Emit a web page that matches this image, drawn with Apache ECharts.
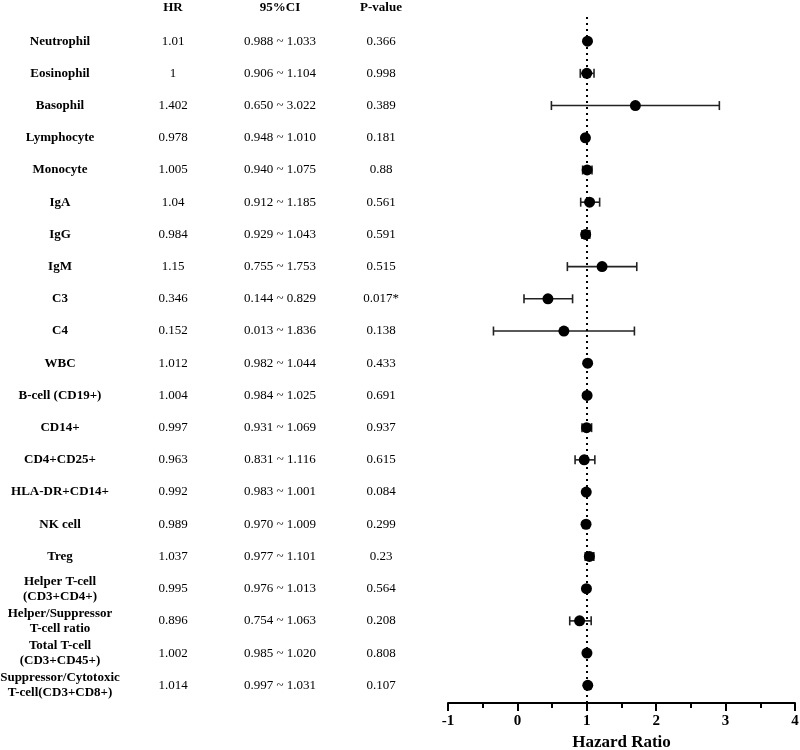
<!DOCTYPE html>
<html>
<head>
<meta charset="utf-8">
<script src="https://cdn.jsdelivr.net/npm/echarts@6/dist/echarts.min.js"></script>
<style>
  html, body { margin: 0; padding: 0; background: #fff; }
  #main { width: 800px; height: 750px; }
</style>
</head>
<body>
<div id="main"></div>
<script>
// row labels (top to bottom)
const labels = [
  'Neutrophil', 'Eosinophil', 'Basophil', 'Lymphocyte', 'Monocyte',
  'IgA', 'IgG', 'IgM', 'C3', 'C4', 'WBC', 'B-cell (CD19+)', 'CD14+',
  'CD4+CD25+', 'HLA-DR+CD14+', 'NK cell', 'Treg',
  'Helper T-cell\n(CD3+CD4+)', 'Helper/Suppressor\nT-cell ratio',
  'Total T-cell\n(CD3+CD45+)', 'Suppressor/Cytotoxic\nT-cell(CD3+CD8+)'
];
// table columns as printed
const hrText = ['1.01', '1', '1.402', '0.978', '1.005', '1.04', '0.984', '1.15', '0.346', '0.152',
  '1.012', '1.004', '0.997', '0.963', '0.992', '0.989', '1.037', '0.995', '0.896', '1.002', '1.014'];
const ciText = ['0.988 ~ 1.033', '0.906 ~ 1.104', '0.650 ~ 3.022', '0.948 ~ 1.010', '0.940 ~ 1.075',
  '0.912 ~ 1.185', '0.929 ~ 1.043', '0.755 ~ 1.753', '0.144 ~ 0.829', '0.013 ~ 1.836',
  '0.982 ~ 1.044', '0.984 ~ 1.025', '0.931 ~ 1.069', '0.831 ~ 1.116', '0.983 ~ 1.001',
  '0.970 ~ 1.009', '0.977 ~ 1.101', '0.976 ~ 1.013', '0.754 ~ 1.063', '0.985 ~ 1.020', '0.997 ~ 1.031'];
const pText = ['0.366', '0.998', '0.389', '0.181', '0.88', '0.561', '0.591', '0.515', '0.017*', '0.138',
  '0.433', '0.691', '0.937', '0.615', '0.084', '0.299', '0.23', '0.564', '0.208', '0.808', '0.107'];
const headers = ['HR', '95%CI', 'P-value'];

// plotted markers
const hrPlot = [1.01, 1.0, 1.70, 0.98, 1.005, 1.04, 0.984, 1.22, 0.44, 0.67, 1.012,
  1.004, 0.997, 0.963, 0.992, 0.989, 1.037, 0.995, 0.896, 1.002, 1.014];
const loPlot = [0.988, 0.906, 0.49, 0.948, 0.94, 0.912, 0.929, 0.72, 0.095, -0.345, 0.982,
  0.984, 0.931, 0.831, 0.983, 0.970, 0.977, 0.976, 0.754, 0.985, 0.997];
const hiPlot = [1.033, 1.104, 2.91, 1.010, 1.075, 1.185, 1.043, 1.72, 0.795, 1.686, 1.044,
  1.025, 1.069, 1.116, 1.001, 1.009, 1.101, 1.013, 1.063, 1.020, 1.031];
const refLine = 1;

const FONT = '"Liberation Serif", "DejaVu Serif", serif';
const colX = [60, 173, 280, 381];   // table column centres (px in table grid)

const chart = echarts.init(document.getElementById('main'), null, { renderer: 'canvas' });

const rows = labels.map((l, i) => [i]);
const errData = labels.map((l, i) => [loPlot[i], hiPlot[i], i]);
const pts = labels.map((l, i) => [hrPlot[i], i]);

const yRange = { min: -0.75, max: 20.55, inverse: true, show: false };

const option = {
  animation: false,
  backgroundColor: '#fff',
  grid: [
    { left: 448, right: 5, top: 17, bottom: 47, outerBoundsMode: 'none' },
    { left: 0, width: 440, top: 17, bottom: 47, outerBoundsMode: 'none' }
  ],
  xAxis: [
    {
      gridIndex: 0, type: 'value', min: -1, max: 4, interval: 1,
      axisLine: { show: true, onZero: false, lineStyle: { color: '#000', width: 2 } },
      axisTick: { show: true, length: 8, lineStyle: { color: '#000', width: 2 } },
      minorTick: { show: true, splitNumber: 2, length: 5, lineStyle: { color: '#000', width: 2 } },
      splitLine: { show: false },
      axisLabel: { color: '#000', fontFamily: FONT, fontWeight: 'bold', fontSize: 15, margin: 11 },
      name: 'Hazard Ratio', nameLocation: 'middle', nameGap: 31,
      nameTextStyle: { color: '#000', fontFamily: FONT, fontWeight: 'bold', fontSize: 17 }
    },
    { gridIndex: 1, type: 'value', min: 0, max: 440, show: false }
  ],
  yAxis: [
    Object.assign({ gridIndex: 0, type: 'value' }, yRange),
    Object.assign({ gridIndex: 1, type: 'value' }, yRange)
  ],
  graphic: headers.map((h, k) => ({
    type: 'text', x: colX[k + 1], y: 8,
    style: { text: h, fill: '#000', font: 'bold 13px ' + FONT, textAlign: 'center', textVerticalAlign: 'middle' }
  })),
  series: [
    {
      // table text
      type: 'custom', xAxisIndex: 1, yAxisIndex: 1, data: rows, silent: true,
      renderItem: function (params, api) {
        const i = api.value(0);
        const y = api.coord([0, i])[1];
        const cols = [labels[i], hrText[i], ciText[i], pText[i]];
        return {
          type: 'group',
          children: cols.map((t, k) => ({
            type: 'text', x: colX[k], y: y,
            style: {
              text: t, fill: '#000', textAlign: 'center', textVerticalAlign: 'middle',
              font: (k === 0 ? 'bold ' : '') + '13px ' + FONT, lineHeight: 15
            }
          }))
        };
      }
    },
    {
      // error bars
      type: 'custom', xAxisIndex: 0, yAxisIndex: 0, data: errData, silent: true,
      renderItem: function (params, api) {
        const a = api.coord([api.value(0), api.value(2)]);
        const b = api.coord([api.value(1), api.value(2)]);
        const h = 4.5;
        const st = { stroke: '#222', lineWidth: 1.6 };
        return {
          type: 'group',
          children: [
            { type: 'line', shape: { x1: a[0], y1: a[1], x2: b[0], y2: b[1] }, style: st },
            { type: 'line', shape: { x1: a[0], y1: a[1] - h, x2: a[0], y2: a[1] + h }, style: st },
            { type: 'line', shape: { x1: b[0], y1: b[1] - h, x2: b[0], y2: b[1] + h }, style: st }
          ]
        };
      }
    },
    {
      type: 'scatter', xAxisIndex: 0, yAxisIndex: 0, data: pts,
      symbol: 'circle', symbolSize: 11, itemStyle: { color: '#000', opacity: 1 }, z: 5,
      markLine: {
        silent: true, symbol: 'none', label: { show: false },
        lineStyle: { color: '#000', width: 2, type: [2, 4] },
        data: [{ xAxis: refLine }]
      }
    }
  ]
};

chart.setOption(option);
</script>
</body>
</html>
